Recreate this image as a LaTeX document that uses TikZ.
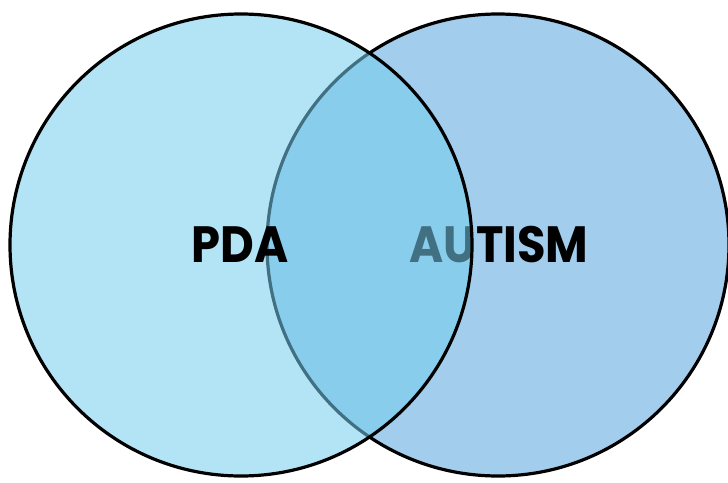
\documentclass[tikz,border=0pt]{standalone}
\usepackage{fontspec}
\setmainfont{Poppins}
\usetikzlibrary{positioning}

\definecolor{pdablue}{RGB}{117,205,238}
\definecolor{autismblue}{RGB}{163,205,236}

\tikzset{
  venn/.style={circle, draw=black, line width=3.2pt, minimum size=462pt, inner sep=0pt},
  setlabel/.style={font=\fontsize{51}{51}\selectfont\bfseries, text=black,
    transform shape, xscale=0.91}
}

\begin{document}
\begin{tikzpicture}[x=1pt, y=-1pt]
  \useasboundingbox (0,0) rectangle (728,482);
  % autism set goes first, the pda set lies over it
  \node[venn, fill=autismblue] (autismset) at (498,245) {};
  \node[setlabel] (autism) at (499,245) {AUTISM};
  \node[venn, fill=pdablue, fill opacity=0.55] (pdaset) at (241,245) {};
  \node[setlabel] (pda) at (240,245) {PDA};
\end{tikzpicture}
\end{document}
